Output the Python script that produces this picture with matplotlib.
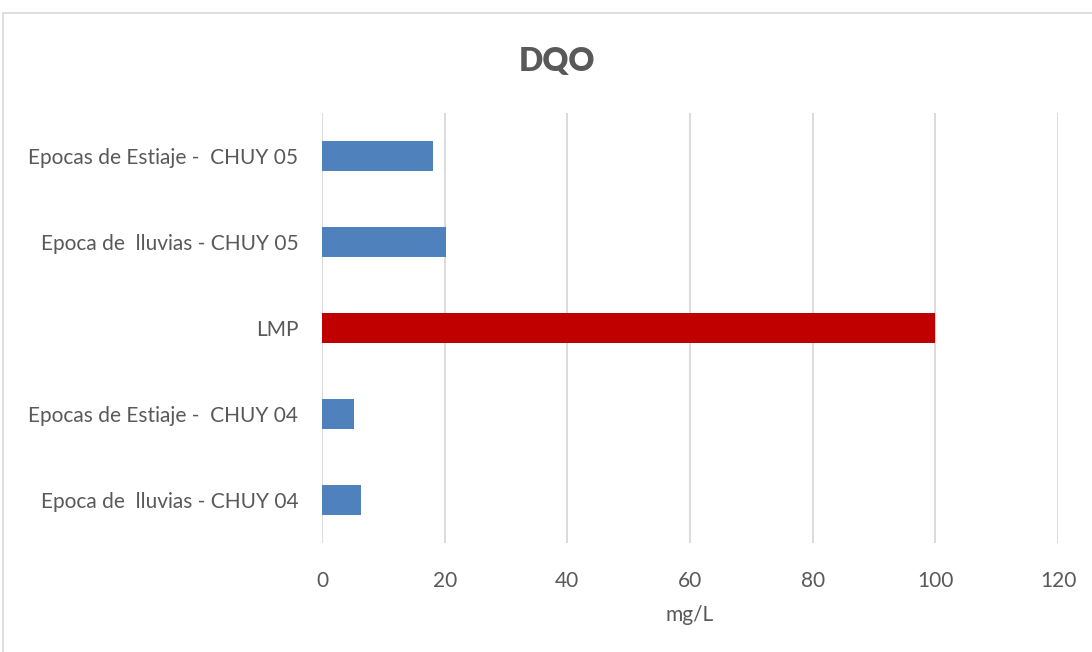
import matplotlib.pyplot as plt
from matplotlib.patches import Rectangle

categories = ['Epoca de  lluvias - CHUY 04', 'Epocas de Estiaje -  CHUY 04', 'LMP',
              'Epoca de  lluvias - CHUY 05', 'Epocas de Estiaje -  CHUY 05']
values = [6.4, 5.2, 100, 20.2, 18.1]
colors = ['#4F81BD', '#4F81BD', '#C00000', '#4F81BD', '#4F81BD']
xticks = [0, 20, 40, 60, 80, 100, 120]

plt.rcParams['font.family'] = ['Lato', 'DejaVu Sans']
txt = '#595959'

fig = plt.figure(figsize=(10.92, 6.52), dpi=100)
ax = fig.add_axes([0.2949, 0.1672, 0.674, 0.6595])

ax.barh(range(len(categories)), values, height=0.35, color=colors, zorder=3)
ax.set_ylim(-0.5, len(categories) - 0.5)
ax.set_xlim(0, 120)
ax.set_xticks(xticks)
ax.set_yticks(range(len(categories)))
ax.set_yticklabels(categories)
ax.grid(axis='x', color='#D9D9D9', linewidth=1.3, zorder=0)
for s in ax.spines.values():
    s.set_visible(False)
ax.tick_params(length=0, colors=txt, labelsize=15)
ax.tick_params(axis='y', pad=17)
ax.tick_params(axis='x', pad=20)
ax.set_xlabel('mg/L', color=txt, fontsize=15, labelpad=10)

fig.text(0.51, 0.905, 'DQO', ha='center', va='center', fontsize=23,
         fontweight='heavy', color=txt)

fig.patches.append(Rectangle((0.003, -0.01), 1.2, 0.99, transform=fig.transFigure,
                             fill=False, edgecolor='#D9D9D9', linewidth=1.2))

fig.savefig('out.png', dpi=100)
